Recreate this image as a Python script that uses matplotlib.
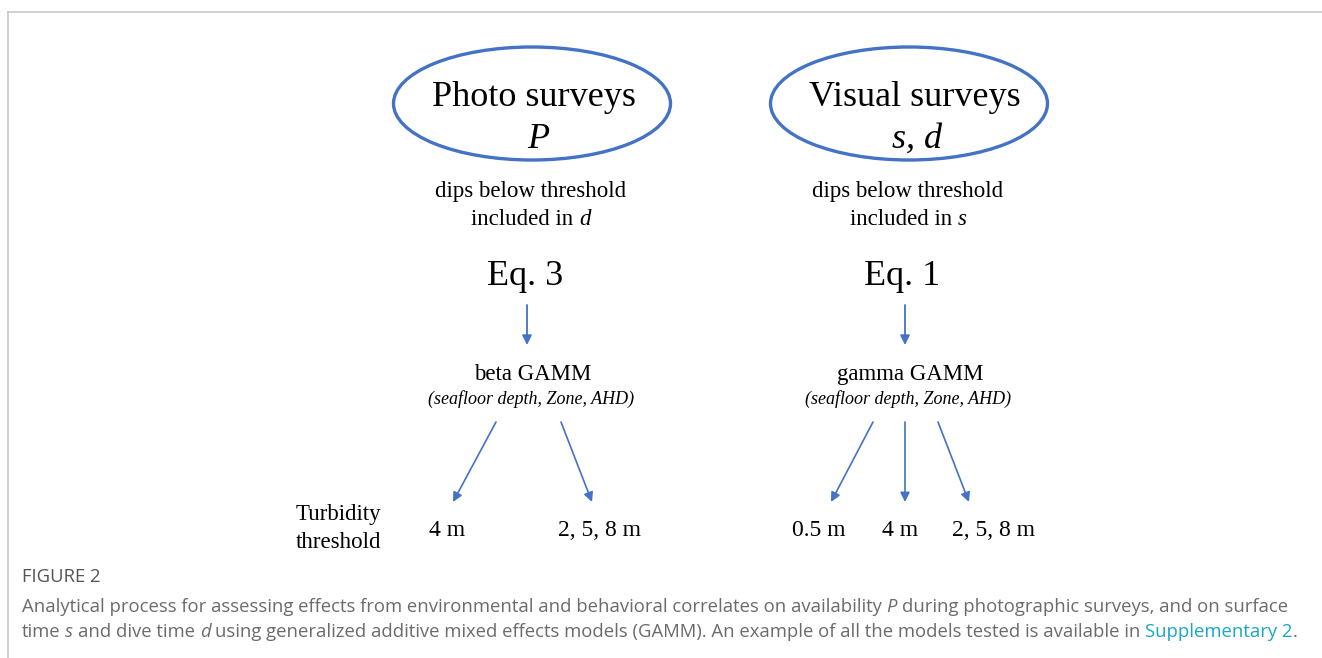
import matplotlib.pyplot as plt
from matplotlib.patches import Ellipse

# diagram content
surveys = ['Photo surveys', 'Visual surveys']
survey_params = ['P', 's, d']
dips_var = ['d', 's']
equations = ['Eq. 3', 'Eq. 1']
models = ['beta GAMM', 'gamma GAMM']
covariates = '(seafloor depth, Zone, AHD)'
thresholds = [['4 m', '2, 5, 8 m'], ['0.5 m', '4 m', '2, 5, 8 m']]
threshold_title = ['Turbidity', 'threshold']
fig_label = 'FIGURE 2'
caption1 = [('Analytical process for assessing effects from environmental and behavioral correlates on availability', 'normal', 0),
            ('P', 'italic', 0),
            ('during photographic surveys, and on surface', 'normal', 0)]
caption2 = [('time', 'normal', 0), ('s', 'italic', 0), ('and dive time', 'normal', 0), ('d', 'italic', 0),
            ('using generalized additive mixed effects models (GAMM). An example of all the models tested is available in', 'normal', 0),
            ('Supplementary 2', 'normal', 1), ('.', 'normal', 2)]

# layout (pixels)
col_x = [531, 908]
eq_arrow_x = [527, 905]
thr_x = [[447, 599], [819, 900, 994]]
arrow_from = [[(496, 422), (561, 422)], [(873, 422), (905, 422), (938, 422)]]
arrow_to = [[(453, 502), (592, 502)], [(831, 502), (905, 502), (969, 502)]]

blue = '#4472C4'
serif = 'Liberation Serif'
sans = 'Open Sans'
cap_grey = '#6b6b6b'
link = '#1aa6c3'

fig = plt.figure(figsize=(13.22, 6.58), dpi=100)
ax = fig.add_axes([0, 0, 1, 1])
ax.set_xlim(0, 1322)
ax.set_ylim(658, 0)
ax.axis('off')
r = fig.canvas.get_renderer()


def width(s, **kw):
    t = ax.text(0, 0, s, **kw)
    w = t.get_window_extent(r).width
    t.remove()
    return w


def runs(x, y, parts, size, family, colors, ha='center'):
    # parts: (text, style, colour index); runs are joined by one space
    kw = dict(fontsize=size, family=family)
    sp = width('x x', **kw) - width('xx', **kw)
    ws = [width(s, style=st, **kw) for s, st, c in parts]
    total = sum(ws) + sp * (len(parts) - 1)
    cx = x - total / 2 if ha == 'center' else x
    for (s, st, c), w in zip(parts, ws):
        ax.text(cx, y, s, style=st, color=colors[c], va='baseline', ha='left', **kw)
        cx += w + (0 if s == 'Supplementary 2' else sp)


# frame
ax.plot([8, 1322], [12, 12], color='#c8c8c8', lw=1.2)
ax.plot([8, 8], [12, 658], color='#c8c8c8', lw=1.2)

for i in range(2):
    x = col_x[i]
    ax.add_patch(Ellipse((x + 1, 103.5), 277, 113, fill=False, ec=blue, lw=2.4))
    ax.text(x + 3 + 4 * i, 106, surveys[i], fontsize=26, family=serif, ha='center', va='baseline')
    ax.text(x + 7 + 2 * i, 148, survey_params[i], fontsize=26, family=serif, style='italic', ha='center', va='baseline')
    ax.text(x, 197, 'dips below threshold', fontsize=16.5, family=serif, ha='center', va='baseline')
    runs(x, 225, [('included in', 'normal', 0), (dips_var[i], 'italic', 0)], 16.5, serif, ['black'])
    ax.text(x - 6, 285, equations[i], fontsize=26, family=serif, ha='center', va='baseline')
    ax.annotate('', xy=(eq_arrow_x[i], 345), xytext=(eq_arrow_x[i], 305),
                arrowprops=dict(arrowstyle='-|>', color=blue, lw=1.3, mutation_scale=14, shrinkA=0, shrinkB=0))
    ax.text(x + 2, 380, models[i], fontsize=16.5, family=serif, ha='center', va='baseline')
    ax.text(x, 404, covariates, fontsize=13, family=serif, style='italic', ha='center', va='baseline')
    for a, b in zip(arrow_from[i], arrow_to[i]):
        ax.annotate('', xy=b, xytext=a,
                    arrowprops=dict(arrowstyle='-|>', color=blue, lw=1.2, mutation_scale=14, shrinkA=0, shrinkB=0))
    for tx, lab in zip(thr_x[i], thresholds[i]):
        ax.text(tx, 536, lab, fontsize=17, family=serif, ha='center', va='baseline')

ax.text(338, 520, threshold_title[0], fontsize=16.5, family=serif, ha='center', va='baseline')
ax.text(339, 548, threshold_title[1], fontsize=16.5, family=serif, ha='center', va='baseline')

# caption
ax.text(22, 582, fig_label, fontsize=13.3, family=sans, color='#555555', va='baseline')
runs(22, 612, caption1, 13.35, sans, [cap_grey], ha='left')
runs(22, 637, caption2, 13.35, sans, [cap_grey, link, cap_grey], ha='left')

fig.savefig('out.png', dpi=100)
